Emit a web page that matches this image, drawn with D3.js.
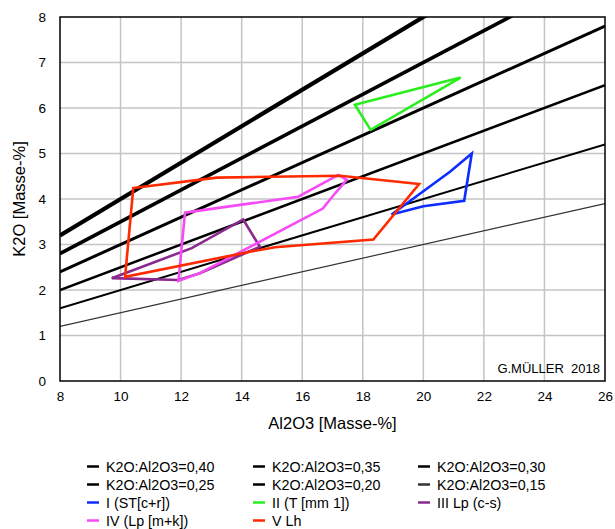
<!DOCTYPE html>
<html>
<head>
<meta charset="utf-8">
<script src="https://cdn.jsdelivr.net/npm/d3@7"></script>
<style>
  html, body { margin: 0; padding: 0; background: #fff; }
  svg { display: block; font-family: "Liberation Sans", Arial, Helvetica, sans-serif; }
</style>
</head>
<body>
<svg id="chart" width="615" height="529"></svg>
<script>
// K2O : Al2O3 reference ratios (lines through the origin)
const ratios = [0.40, 0.35, 0.30, 0.25, 0.20, 0.15];
const ratioWidths = [4.2, 3.6, 3, 2.5, 2, 1.2];
const ratioColors = ["#000", "#000", "#000", "#000", "#000", "#333"];

// Field outlines, [Al2O3, K2O] in Masse-%
const groupNames = ["I (ST[c+r])", "II (T [mm 1])", "III Lp (c-s)", "IV (Lp [m+k])", "V Lh"];
const groupColors = ["#0d2cff", "#2aee1e", "#8b2a8e", "#f74af7", "#ff2a00"];
const groupI   = [[18.95, 3.66], [20.0, 3.84], [21.35, 3.96], [21.60, 5.00], [20.88, 4.60]];
const groupII  = [[17.74, 6.07], [21.23, 6.67], [18.26, 5.52]];
const groupIII = [[9.71, 2.26], [12.35, 2.92], [14.05, 3.55], [14.60, 2.95], [12.62, 2.37], [11.91, 2.22]];
const groupIV  = [[12.13, 3.70], [15.87, 4.05], [17.19, 4.53], [17.47, 4.42], [17.08, 4.12],
                  [16.68, 3.79], [12.62, 2.37], [11.91, 2.20]];
const groupV   = [[10.42, 4.24], [13.18, 4.47], [17.25, 4.51], [19.86, 4.33], [18.35, 3.11],
                  [15.10, 2.94], [14.27, 2.84], [10.15, 2.29]];
const groups = [groupI, groupII, groupIII, groupIV, groupV];

const xTicks = [8, 10, 12, 14, 16, 18, 20, 22, 24, 26];
const yTicks = [0, 1, 2, 3, 4, 5, 6, 7, 8];

const svg = d3.select("#chart");
const margin = { left: 60, top: 17, right: 10, bottom: 148 };
const W = 615, H = 529;
const pw = W - margin.left - margin.right;
const ph = H - margin.top - margin.bottom;

const x = d3.scaleLinear().domain([8, 26]).range([margin.left, margin.left + pw]);
const y = d3.scaleLinear().domain([0, 8]).range([margin.top + ph, margin.top]);

svg.append("defs").append("clipPath").attr("id", "plotclip")
  .append("rect").attr("x", x(8)).attr("y", y(8)).attr("width", pw).attr("height", ph);

// grid
const grid = svg.append("g");
grid.selectAll("line.gx").data(xTicks.slice(1, -1)).join("line")
  .attr("x1", d => x(d)).attr("x2", d => x(d)).attr("y1", y(0)).attr("y2", y(8))
  .attr("stroke", "#c4c4c4").attr("stroke-width", 1.5);
grid.selectAll("line.gy").data(yTicks.slice(1, -1)).join("line")
  .attr("x1", x(8)).attr("x2", x(26)).attr("y1", d => y(d)).attr("y2", d => y(d))
  .attr("stroke", "#c4c4c4").attr("stroke-width", 1.5);

// tick labels
svg.append("g").attr("transform", `translate(0,${y(0)})`)
  .call(d3.axisBottom(x).tickValues(xTicks).tickSize(0).tickPadding(10))
  .call(g => g.select(".domain").remove())
  .call(g => g.selectAll("text").attr("font-size", 13.5).attr("fill", "#000")
    .attr("font-family", "'Liberation Sans', Arial, sans-serif"));
svg.append("g").attr("transform", `translate(${x(8)},0)`)
  .call(d3.axisLeft(y).tickValues(yTicks).tickSize(0).tickPadding(14))
  .call(g => g.select(".domain").remove())
  .call(g => g.selectAll("text").attr("font-size", 13.5).attr("fill", "#000")
    .attr("font-family", "'Liberation Sans', Arial, sans-serif"));

const plot = svg.append("g").attr("clip-path", "url(#plotclip)");

// ratio lines
const line = d3.line().x(d => x(d[0])).y(d => y(d[1]));
plot.selectAll("path.ratio").data(ratios).join("path")
  .attr("d", r => line([[8, 8 * r], [26, 26 * r]]))
  .attr("fill", "none")
  .attr("stroke", (r, i) => ratioColors[i])
  .attr("stroke-width", (r, i) => ratioWidths[i]);

// field outlines
const closed = d3.line().x(d => x(d[0])).y(d => y(d[1])).curve(d3.curveLinearClosed);
plot.selectAll("path.field").data(groups).join("path")
  .attr("d", d => closed(d))
  .attr("fill", "none")
  .attr("stroke", (d, i) => groupColors[i])
  .attr("stroke-width", 2.6)
  .attr("stroke-linejoin", "miter");

// frame
svg.append("rect").attr("x", x(8)).attr("y", y(8)).attr("width", pw).attr("height", ph)
  .attr("fill", "none").attr("stroke", "#000").attr("stroke-width", 1.5);

// credit
svg.append("text").attr("x", x(26) - 5).attr("y", y(0) - 8)
  .attr("text-anchor", "end").attr("font-size", 13)
  .attr("xml:space", "preserve").style("white-space", "pre")
  .text("G.MÜLLER  2018");

// axis titles
svg.append("text").attr("x", (x(8) + x(26)) / 2).attr("y", 429)
  .attr("text-anchor", "middle").attr("font-size", 16.5).text("Al2O3 [Masse-%]");
svg.append("text")
  .attr("transform", `translate(25,${(y(0) + y(8)) / 2}) rotate(-90)`)
  .attr("text-anchor", "middle").attr("font-size", 16.5).text("K2O [Masse-%]");

// legend
const legendItems = ratios.map((r, i) => ({
  label: "K2O:Al2O3=" + r.toFixed(2).replace(".", ","),
  color: ratioColors[i]
})).concat(groupNames.map((n, i) => ({ label: n, color: groupColors[i] })));
const colX = [87, 253, 418];
const rowY = [466.5, 484.5, 502.5, 520.5];
const leg = svg.append("g");
legendItems.forEach((it, i) => {
  const cx = colX[i % 3], cy = rowY[Math.floor(i / 3)];
  leg.append("line").attr("x1", cx).attr("x2", cx + 12).attr("y1", cy).attr("y2", cy)
    .attr("stroke", it.color).attr("stroke-width", 2.5);
  leg.append("text").attr("x", cx + 19).attr("y", cy + 5).attr("font-size", 14.3).text(it.label);
});
</script>
</body>
</html>
